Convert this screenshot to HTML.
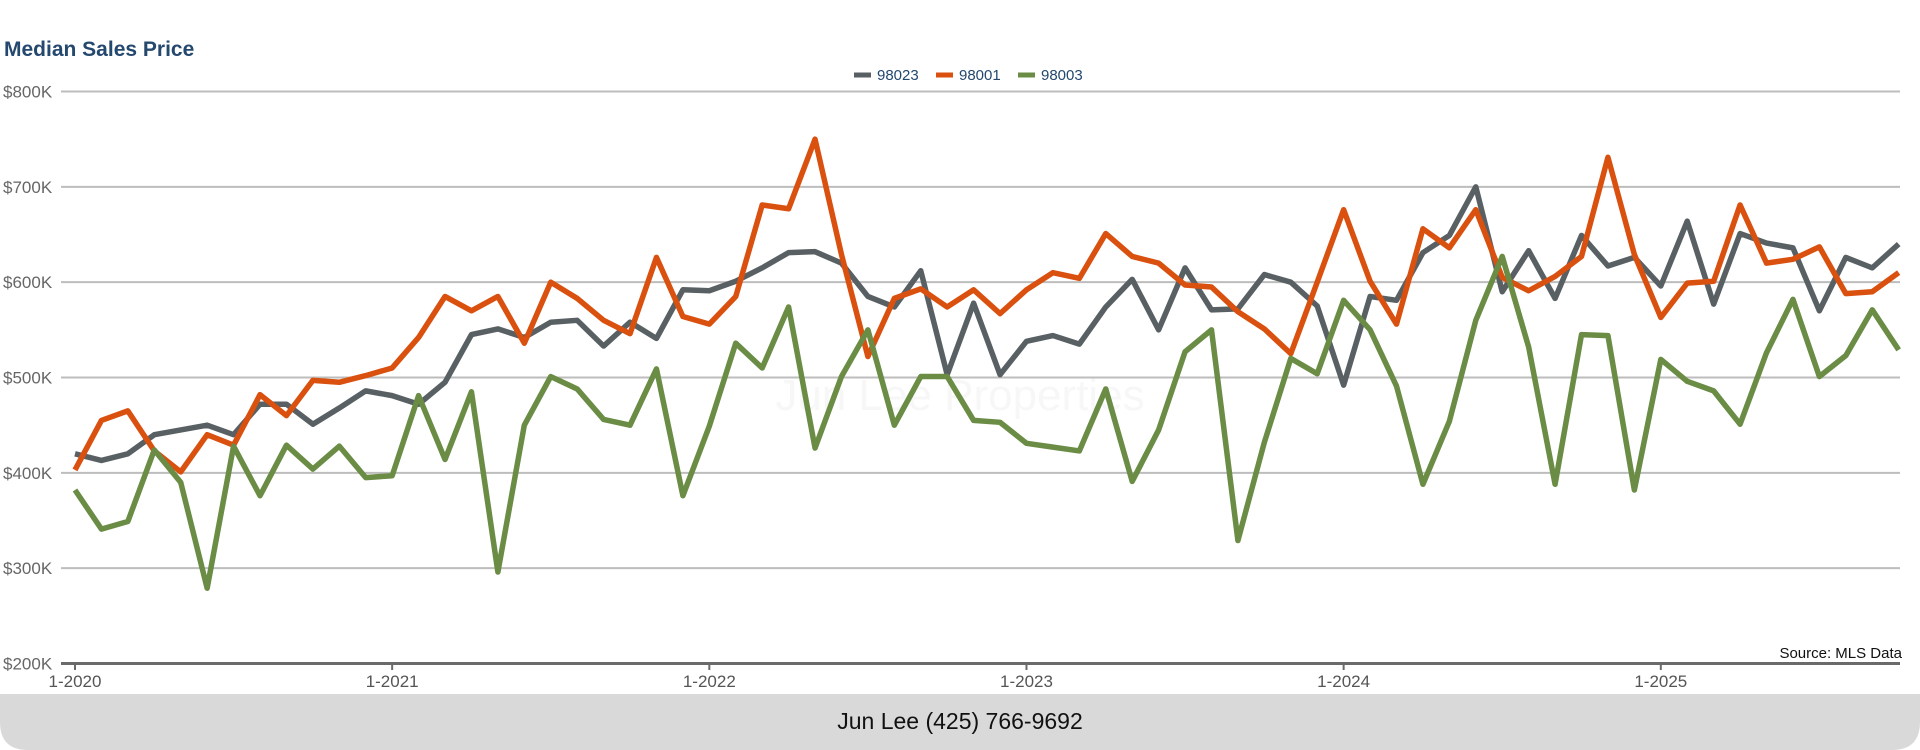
<!DOCTYPE html>
<html><head><meta charset="utf-8"><style>
body{margin:0;width:1920px;height:750px;overflow:hidden;background:#fff;font-family:"Liberation Sans",sans-serif;}
svg{position:absolute;left:0;top:0;}
</style></head><body>
<svg id="c" width="1920" height="750">
<path d="M0 694 H1920 V722 Q1920 750 1892 750 H28 Q0 750 0 722 Z" fill="#d9d9d9"/>
<text x="960" y="729" text-anchor="middle" font-size="23" fill="#111">Jun Lee (425) 766-9692</text>
<text x="4" y="56" font-size="21" font-weight="bold" fill="#24486e">Median Sales Price</text>
<text x="960" y="410" text-anchor="middle" font-size="44" fill="#f7f7f7">Jun Lee Properties</text>
<g id="grid"></g><g id="lines"></g><g id="legend"></g>
<text x="1902" y="658" text-anchor="end" font-size="15" fill="#111">Source: MLS Data</text>
</svg>
<script>
const seriesNames=["98023","98001","98003"];
const colors=["#596064","#d9500f","#6a8c45"];
const s98023=[420,413,420,440,445,450,440,472,472,451,468,486,481,472,495,545,551,542,558,560,533,558,541,592,591,601,615,631,632,620,585,574,612,503,578,503,538,544,535,574,603,550,615,571,572,608,600,575,492,585,581,631,649,700,590,633,583,649,617,626,596,664,577,651,641,636,570,626,615,640];
const s98001=[403,455,465,423,401,440,429,482,460,497,495,502,510,542,585,570,585,536,600,583,560,546,626,564,556,585,681,677,750,629,522,583,593,574,592,567,592,610,604,651,627,620,597,595,569,551,525,600,676,601,556,656,636,676,605,591,606,627,731,629,563,599,601,681,620,624,637,588,590,610];
const s98003=[382,341,349,424,390,279,428,376,429,404,428,395,397,481,414,485,296,450,501,488,456,450,509,376,449,536,510,574,426,501,550,450,501,501,455,453,431,427,423,488,391,445,527,550,329,432,520,504,581,550,491,388,454,560,627,532,388,545,544,382,519,496,486,451,526,582,501,523,571,529];
const yTicks=[200,300,400,500,600,700,800];
const xTickLabels=["1-2020","1-2021","1-2022","1-2023","1-2024","1-2025"];
const NS="http://www.w3.org/2000/svg";
const X=i=>75+i*26.43, Y=v=>663.5-(v-200)*0.9533;
function mk(t,a,p){const e=document.createElementNS(NS,t);for(const k in a)e.setAttribute(k,a[k]);p.appendChild(e);return e;}
const g=document.getElementById('grid');
yTicks.forEach(v=>{
 if(v>200){const l=mk('line',{x1:61,x2:1900,y1:Y(v),y2:Y(v),stroke:'#bdbdbd','stroke-width':2},g);
 
 }
 const t=mk('text',{x:3,y:Y(v)+6,'font-size':17,fill:'#666'},g);t.textContent='$'+v+'K';
 
 
});
const ax=mk('line',{x1:61,x2:1900,y1:663.5,y2:663.5,stroke:'#6a6a6a','stroke-width':3},g);


xTickLabels.forEach((s,k)=>{const x=X(k*12);
 mk('line',{x1:x,x2:x,y1:663,y2:670,stroke:'#6a6a6a','stroke-width':2},g);
 const t=mk('text',{x:x,y:687,'font-size':17,fill:'#555','text-anchor':'middle'},g);t.textContent=s;
 
 
});
const L=document.getElementById('lines');
[s98023,s98001,s98003].forEach((d,k)=>{
 const p=mk('polyline',{points:d.map((v,i)=>X(i)+','+Y(v)).join(' '),fill:'none',stroke:colors[k],'stroke-width':5.5,'stroke-linejoin':'round'},L);
 
 
});
const lg=document.getElementById('legend');
let lx=854;
seriesNames.forEach((n,k)=>{
 mk('line',{x1:lx,x2:lx+17,y1:75,y2:75,stroke:colors[k],'stroke-width':5},lg);
 const t=mk('text',{x:lx+23,y:80,'font-size':15,fill:'#24486e'},lg);t.textContent=n;
 
 
 lx+=82;
});
</script>
</body></html>
